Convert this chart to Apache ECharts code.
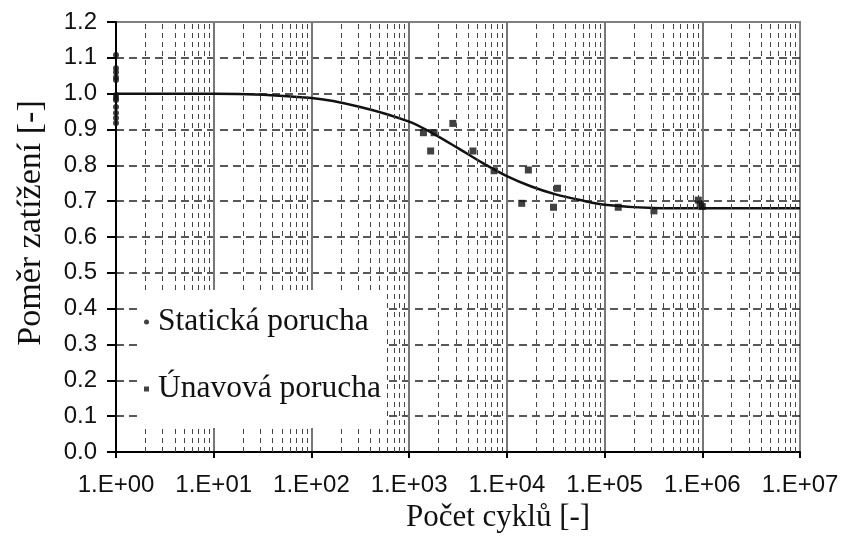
<!DOCTYPE html>
<html>
<head>
<meta charset="utf-8">
<script src="https://cdn.jsdelivr.net/npm/echarts@6/dist/echarts.min.js"></script>
<style>
  html, body { margin: 0; padding: 0; background: #fff; }
  #chart { width: 845px; height: 536px; }
</style>
</head>
<body>
<div id="chart"></div>
<script>
// tick labels
var xTickLabels = ['1.E+00', '1.E+01', '1.E+02', '1.E+03', '1.E+04', '1.E+05', '1.E+06', '1.E+07'];

// static failures (all at N = 1)
var staticN = [1, 1, 1, 1, 1, 1, 1, 1, 1, 1, 1, 1];
var staticVals = [1.108, 1.071, 1.06, 1.046, 1.038, 0.996, 0.988, 0.982, 0.963, 0.946, 0.932, 0.918];

// fatigue failures
var fatigueN = [1400, 1800, 2800, 1660, 4500, 7400, 16600, 33000, 14200, 30000, 138000, 320000, 910000, 950000, 1000000];
var fatigueVals = [0.891, 0.891, 0.917, 0.840, 0.840, 0.785, 0.787, 0.736, 0.694, 0.683, 0.683, 0.673, 0.703, 0.692, 0.685];

// fitted curve
var curveN = [1, 10, 100, 316, 1000, 1780, 3160, 5620, 10000, 17800, 31600, 56200, 100000, 316000, 1000000, 10000000];
var curveVals = [1.0, 1.0, 0.988, 0.963, 0.922, 0.888, 0.848, 0.807, 0.770, 0.741, 0.719, 0.703, 0.690, 0.681, 0.68, 0.68];

// minor vertical grid: 2..9 in each decade
var minorMantissas = [2, 3, 4, 5, 6, 7, 8, 9];
var decades = [1, 10, 100, 1000, 10000, 100000, 1000000];
var minorGrid = [];
decades.forEach(function (d) {
    minorMantissas.forEach(function (m) { minorGrid.push({ xAxis: m * d }); });
});

function pairs(xs, ys) {
    return xs.map(function (x, i) { return [x, ys[i]]; });
}

var chart = echarts.init(document.getElementById('chart'));
var serif = '"Liberation Serif", "DejaVu Serif", serif';
var sans = '"Liberation Sans", Arial, sans-serif';

var option = {
    animation: false,
    backgroundColor: '#fff',
    grid: {
        left: 116, right: 45, top: 22, bottom: 84,
        show: true, borderColor: '#808080', borderWidth: 2,
        outerBoundsMode: 'none'
    },
    legend: {
        orient: 'vertical',
        left: 138, top: 290,
        padding: [16, 4, 23, 6],
        itemGap: 35,
        itemWidth: 13, itemHeight: 5,
        backgroundColor: '#fff',
        z: 10,
        textStyle: { fontFamily: serif, fontSize: 31.5, color: '#111' },
        data: [
            { name: 'Statická porucha', icon: 'circle' },
            { name: 'Únavová porucha', icon: 'path://M0,0H10V10H0Z' }
        ]
    },
    xAxis: {
        type: 'log', logBase: 10, min: 1, max: 10000000,
        name: 'Počet cyklů [-]', nameLocation: 'middle', nameGap: 47,
        nameTextStyle: { fontFamily: serif, fontSize: 31, color: '#111', padding: [0, 0, 0, 80] },
        axisLine: { lineStyle: { color: '#000', width: 2 } },
        axisTick: { show: true, length: 6, lineStyle: { color: '#000', width: 2 } },
        axisLabel: {
            margin: 21, fontFamily: sans, fontSize: 24, color: '#111',
            formatter: function (v) { return xTickLabels[Math.round(Math.log10(v))]; }
        },
        splitLine: { show: true, showMinLine: false, showMaxLine: false, lineStyle: { color: '#777', width: 2 } }
    },
    yAxis: {
        type: 'value', min: 0, max: 1.2, interval: 0.1,
        name: 'Poměr zatížení [-]', nameLocation: 'middle', nameGap: 68,
        nameTextStyle: { fontFamily: serif, fontSize: 34, color: '#111', padding: [0, 0, 0, 28] },
        axisLine: { show: true, lineStyle: { color: '#000', width: 2 } },
        axisTick: { show: true, length: 9, lineStyle: { color: '#000', width: 2 } },
        axisLabel: {
            margin: 19, fontFamily: sans, fontSize: 24, color: '#111',
            formatter: function (v) { return v.toFixed(1); }
        },
        splitLine: { show: true, showMinLine: false, showMaxLine: false, lineStyle: { color: '#222', width: 1.5, type: [8, 5] } }
    },
    series: [
        {
            name: 'grid',
            type: 'line',
            data: [],
            silent: true,
            markLine: {
                silent: true,
                symbol: 'none',
                label: { show: false },
                lineStyle: { color: '#444', width: 1, type: [5, 4] },
                emphasis: { disabled: true },
                data: minorGrid
            }
        },
        {
            name: 'curve',
            type: 'line',
            data: pairs(curveN, curveVals),
            smooth: 0.3,
            showSymbol: false,
            lineStyle: { color: '#111', width: 2.5 }
        },
        {
            name: 'Statická porucha',
            type: 'scatter',
            data: pairs(staticN, staticVals),
            symbol: 'circle',
            symbolSize: 6,
            itemStyle: { color: '#111' }
        },
        {
            name: 'Únavová porucha',
            type: 'scatter',
            data: pairs(fatigueN, fatigueVals),
            symbol: 'rect',
            symbolSize: 7,
            itemStyle: { color: '#111' }
        }
    ]
};

chart.setOption(option);
</script>
</body>
</html>
